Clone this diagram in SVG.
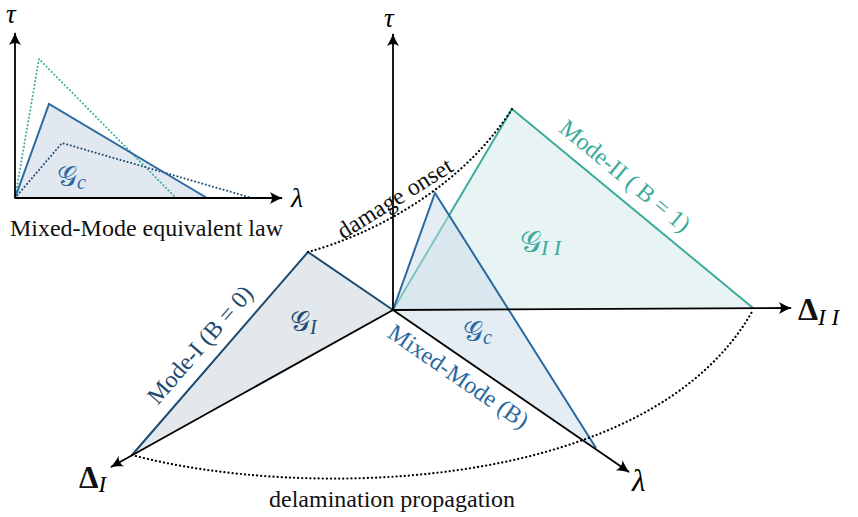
<svg xmlns="http://www.w3.org/2000/svg" width="858" height="517" viewBox="0 0 858 517">
<style>
.ax{stroke:#000;stroke-width:1.8;fill:none}
.dot{stroke:#000;stroke-width:2.2;fill:none;stroke-dasharray:0.1 4;stroke-linecap:round}
.txt{font-family:"Liberation Serif","Times New Roman",serif;fill:#111}
.math{font-family:"Liberation Serif","DejaVu Serif",serif;font-style:italic}
.scr{font-family:"DejaVu Sans","Noto Sans",serif}
.navy{fill:#1d4a6e}
.blue{fill:#2a68a0}
.teal{fill:#3aab9d}
</style>
<defs>
<marker id="arr" viewBox="-13 -7 15 14" refX="0" refY="0" markerWidth="15" markerHeight="14" markerUnits="userSpaceOnUse" orient="auto">
<path d="M1,0 C-3,-1 -8,-3.5 -12,-6 Q-8,0 -12,6 C-8,3.5 -3,1 1,0Z" fill="#000"/>
</marker>
</defs>

<g id="inset">
<polygon points="15,198 49,104 207,198" fill="#e1e8f0" stroke="none"/>
<polyline points="15,198 39,59 176,198" fill="none" stroke="#3aab9d" stroke-width="2" stroke-dasharray="0.1 3.6" stroke-linecap="round"/>
<polyline points="15,198 62,143 252,198" fill="none" stroke="#1d4a6e" stroke-width="2" stroke-dasharray="0.1 3.6" stroke-linecap="round"/>
<polyline points="15,198 49,104 207,198" fill="none" stroke="#2a68a0" stroke-width="2"/>
<line class="ax" x1="15" y1="198" x2="15" y2="33" marker-end="url(#arr)"/>
<line class="ax" x1="15" y1="198" x2="282" y2="198" marker-end="url(#arr)"/>
<text class="math" x="6" y="23" font-size="27">τ</text>
<text class="math" x="291" y="207" font-size="28">λ</text>
<text x="57" y="186" class="blue"><tspan class="scr" font-size="28">𝒢</tspan><tspan class="math" font-size="20" dy="3">c</tspan></text>
<text class="txt" x="10" y="236" font-size="24" textLength="273" lengthAdjust="spacingAndGlyphs">Mixed-Mode equivalent law</text>
</g>

<g id="mode1">
<polygon points="393,310 308,252 132,455" fill="#e3e8ec"/>
<polyline points="393,310 308,252 132,455" fill="none" stroke="#1d4a6e" stroke-width="2"/>
<text x="290" y="331" class="navy"><tspan class="scr" font-size="28">𝒢</tspan><tspan class="math" font-size="20" dy="3">I</tspan></text>
<text class="txt navy" x="206" y="350" font-size="24" text-anchor="middle" transform="rotate(-49.1 206 350)">Mode-I (B = 0)</text>
</g>

<g id="mode2">
<polygon points="393,310 512,109 753,308" fill="#e8f4f4"/>
<polyline points="393,310 512,109 753,308" fill="none" stroke="#3aab9d" stroke-width="2"/>
<text x="520" y="252" class="teal"><tspan class="scr" font-size="30">𝒢</tspan><tspan class="math" font-size="22" dy="3">I I</tspan></text>
<text class="txt teal" x="620" y="182" font-size="24" text-anchor="middle" transform="rotate(39.5 620 182)">Mode-II ( B = 1)</text>
</g>

<g id="mixed">
<polygon points="393,310 435,193 596,448" fill="#c9dbe8" fill-opacity="0.5"/>
<polyline points="393,310 435,193 596,448" fill="none" stroke="#2a68a0" stroke-width="2"/>
<text x="463" y="341" class="blue"><tspan class="scr" font-size="28">𝒢</tspan><tspan class="math" font-size="20" dy="3">c</tspan></text>
<text class="txt blue" x="454" y="383" font-size="24" text-anchor="middle" transform="rotate(34.5 454 383)">Mixed-Mode (B)</text>
</g>

<g id="connectors">
<line class="ax" x1="393" y1="310" x2="393" y2="34" marker-end="url(#arr)"/>
<line class="ax" x1="393" y1="310" x2="791" y2="308" marker-end="url(#arr)"/>
<line class="ax" x1="393" y1="310" x2="111" y2="467" marker-end="url(#arr)"/>
<line class="ax" x1="393" y1="310" x2="629" y2="472" marker-end="url(#arr)"/>
<path class="dot" d="M308,252 C370,235 460,190 512,109"/>
<path class="dot" d="M132,455 C300,500 650,495 753,310"/>
</g>

<g id="labels">
<text class="math" x="384" y="27" font-size="27">τ</text>
<text class="math" x="632" y="491" font-size="31">λ</text>
<text x="798" y="320"><tspan class="txt" font-size="32" font-weight="bold">Δ</tspan><tspan class="math" font-size="23" dy="5">I I</tspan></text>
<text x="79" y="488"><tspan class="txt" font-size="31" font-weight="bold">Δ</tspan><tspan class="math" font-size="23" dy="4">I</tspan></text>
<text class="txt" x="399" y="205" font-size="24" text-anchor="middle" transform="rotate(-32 399 205)">damage onset</text>
<text class="txt" x="392" y="507" font-size="24" text-anchor="middle">delamination propagation</text>
</g>
</svg>
